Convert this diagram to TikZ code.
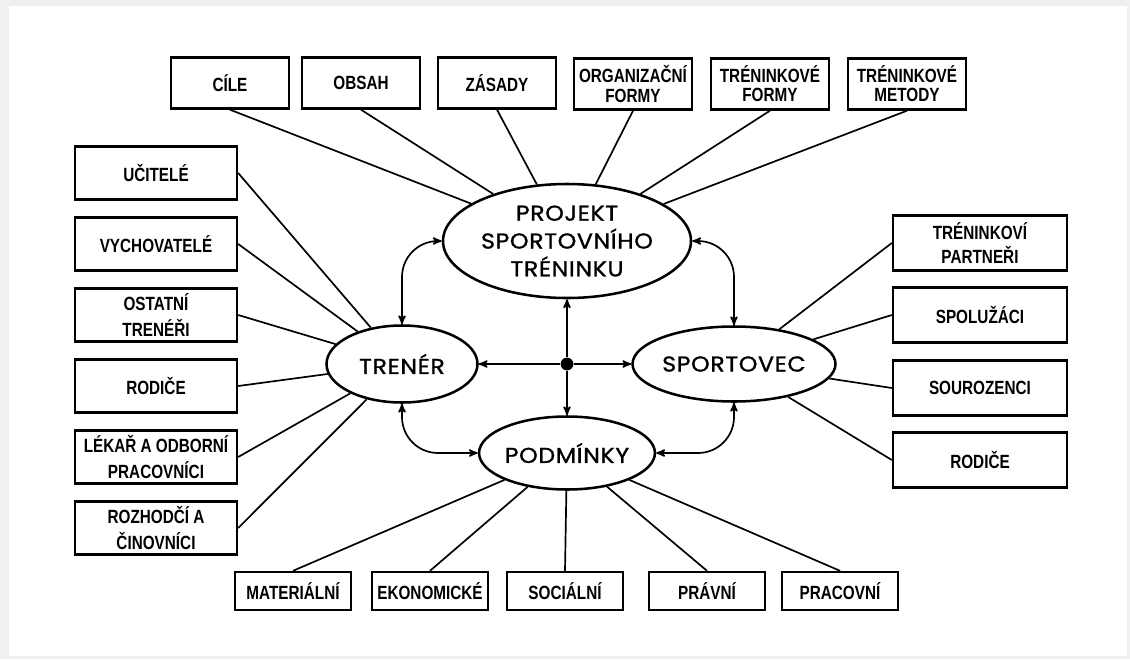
\documentclass[tikz,border=0pt]{standalone}
\usepackage{fontspec}
\usepackage{tikz}
\usetikzlibrary{shapes.geometric, arrows}
\newfontfamily\boxfont[FakeStretch=0.8]{Liberation Sans}
\newfontfamily\ellfont[FakeStretch=1.1,LetterSpace=3,FakeBold=1.2]{Poppins}
\tikzset{
    panel/.style={draw, line width=1.7pt, inner sep=0pt, align=center,
        font=\boxfont\bfseries\fontsize{13.6}{13.6}\selectfont},
    topbox/.style={panel, minimum width=29.5mm, minimum height=12.75mm},
    leftbox/.style={panel, minimum width=40.5mm, minimum height=13.25mm},
    rightbox/.style={panel, minimum width=43.5mm, minimum height=13.75mm},
    lowbox/.style={panel, minimum width=29mm, minimum height=9.5mm},
    oval/.style={ellipse, draw, line width=1.8pt, inner sep=0pt, align=center,
        font=\ellfont\fontsize{15.3}{19.8}\selectfont},
    every edge/.style={draw, line width=1.2pt},
    link/.style={line width=1.2pt, >=stealth'}
}

\begin{document}
\begin{tikzpicture}[x=0.25mm, y=-0.25mm]
	\useasboundingbox (0,0) rectangle (1130,659);
	\fill[gray!12] (0,0) rectangle (1130,659);
	\fill[white] (9,6) rectangle (1127,656);

	\node[oval, minimum width=62mm, minimum height=28.5mm] at (567,241) (proj) {PROJEKT\\SPORTOVNÍHO\\TRÉNINKU};
	\node[oval, minimum width=37.75mm, minimum height=19.25mm] at (402,364) (trener) {TRENÉR};
	\node[oval, minimum width=39.5mm, minimum height=18.75mm] at (734,364) (sportovec) {SPORTOVEC};
	\node[oval, minimum width=40mm, minimum height=18.25mm] at (567,453) (podminky) {PODMÍNKY};
	\node[circle, fill, inner sep=0pt, minimum size=3.2mm] at (567,364) (hub) {};

	\node[topbox] at (230,83) (cile) {CÍLE};
	\node[topbox] at (361,83) (obsah) {OBSAH};
	\node[topbox] at (497,83) (zasady) {ZÁSADY};
	\node[topbox] at (633,84) (orgformy) {ORGANIZAČNÍ\\FORMY};
	\node[topbox] at (770,84) (trformy) {TRÉNINKOVÉ\\FORMY};
	\node[topbox] at (907,84) (trmetody) {TRÉNINKOVÉ\\METODY};

	\node[leftbox] at (156,173) (ucitele) {UČITELÉ};
	\node[leftbox] at (156,244) (vychovatele) {VYCHOVATELÉ};
	\node[leftbox] at (156,315) (treneri) {OSTATNÍ\\[5pt]TRENÉŘI};
	\node[leftbox] at (156,386) (rodiceL) {RODIČE};
	\node[leftbox] at (156,457) (lekar) {LÉKAŘ A ODBORNÍ\\[5pt]PRACOVNÍCI};
	\node[leftbox] at (156,528) (rozhodci) {ROZHODČÍ A\\[5pt]ČINOVNÍCI};

	\node[rightbox] at (980,243) (partneri) {TRÉNINKOVÍ\\[3pt]PARTNEŘI};
	\node[rightbox] at (980,315) (spoluzaci) {SPOLUŽÁCI};
	\node[rightbox] at (980,388) (sourozenci) {SOUROZENCI};
	\node[rightbox] at (980,460) (rodiceR) {RODIČE};

	\node[lowbox] at (293,591) (materialni) {MATERIÁLNÍ};
	\node[lowbox] at (430,591) (ekonomicke) {EKONOMICKÉ};
	\node[lowbox] at (565,591) (socialni) {SOCIÁLNÍ};
	\node[lowbox] at (707,591) (pravni) {PRÁVNÍ};
	\node[lowbox] at (840,591) (pracovni) {PRACOVNÍ};

	\draw
	(cile.south) edge (proj)
	(obsah.south) edge (proj)
	(zasady.south) edge (proj)
	(orgformy.south) edge (proj)
	(trformy.south) edge (proj)
	(trmetody.south) edge (proj)
	(ucitele.east) edge (trener)
	(vychovatele.east) edge (trener)
	(treneri.east) edge (trener)
	(rodiceL.east) edge (trener)
	(lekar.east) edge (trener)
	(rozhodci.east) edge (trener)
	(partneri.west) edge (sportovec)
	(spoluzaci.west) edge (sportovec)
	(sourozenci.west) edge (sportovec)
	(rodiceR.west) edge (sportovec)
	(materialni.north) edge (podminky)
	(ekonomicke.north) edge (podminky)
	(socialni.north) edge (podminky)
	(pravni.north) edge (podminky)
	(pracovni.north) edge (podminky);

	\draw[link, ->] (hub) -- (proj);
	\draw[link, ->] (hub) -- (podminky);
	\draw[link, ->] (hub) -- (trener);
	\draw[link, ->] (hub) -- (sportovec);
	\draw[link, <->, rounded corners=9mm] (trener.north) |- (proj.west);
	\draw[link, <->, rounded corners=9mm] (proj.east) -| (sportovec.north);
	\draw[link, <->, rounded corners=9mm] (trener.south) |- (podminky.west);
	\draw[link, <->, rounded corners=9mm] (sportovec.south) |- (podminky.east);
\end{tikzpicture}
\end{document}
